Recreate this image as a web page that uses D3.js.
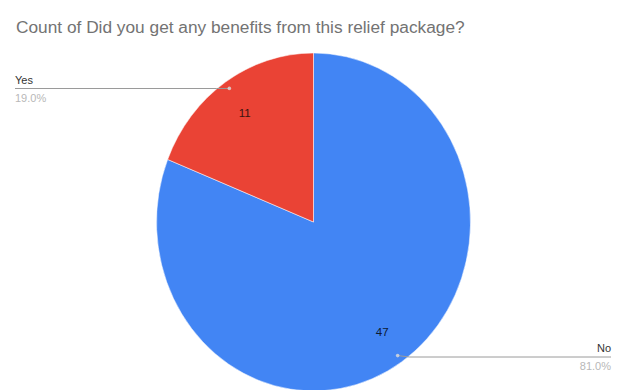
<!DOCTYPE html>
<html><head><meta charset="utf-8">
<script src="https://cdn.jsdelivr.net/npm/d3@7"></script>
<style>html,body{margin:0;padding:0;background:#fff;}svg{display:block;font-family:"Liberation Sans",Arial,sans-serif;}</style>
</head><body>
<svg id="c" width="624" height="390"></svg>
<script>
const title = "Count of Did you get any benefits from this relief package?";
const categories = ["No", "Yes"];
const counts = [47, 11];
const colors = ["#4285F4", "#EA4335"];

const svg = d3.select("#c");
const cx = 313.5, cy = 222, rx = 157, ry = 169;

svg.append("text").attr("x", 16).attr("y", 33)
  .attr("font-size", 17.3).attr("fill", "#737373").text(title);

const total = d3.sum(counts);
const data = categories.map((c, i) => ({cat: c, v: counts[i], col: colors[i]}));
const pie = d3.pie().sort(null).value(d => d.v);
const arcs = pie(data);
const arc = d3.arc().innerRadius(0).outerRadius(rx);

const g = svg.append("g").attr("transform", `translate(${cx},${cy}) scale(1,${ry/rx})`);
g.selectAll("path").data(arcs).enter().append("path")
  .attr("d", arc).attr("fill", d => d.data.col)
  .attr("stroke", "#fff").attr("stroke-width", 0.5);

function pt(a, f) {
  const m = (a.startAngle + a.endAngle) / 2;
  return [cx + Math.sin(m) * rx * f, cy - Math.cos(m) * ry * f];
}

// slice value labels
arcs.forEach(a => {
  const p = pt(a, 0.78);
  svg.append("text").attr("x", p[0]).attr("y", p[1] + 4.5)
    .attr("text-anchor", "middle").attr("font-size", 11.5)
    .attr("fill", a.data.cat === "Yes" ? "#3a1410" : "#0d1a33").text(a.data.v);
});

// outside labels with leader lines
const fmt = d3.format(".1%");
arcs.forEach(a => {
  const d0 = pt(a, 0.955);
  const left = Math.sin((a.startAngle + a.endAngle) / 2) < 0;
  const ly = left ? 88.5 : 357;
  const lx = left ? 15 : 611;
  const bend = left ? d0[0] - 13 : d0[0] + 12;
  svg.append("path")
    .attr("d", `M${d0[0]},${d0[1]} L${bend},${ly} L${lx},${ly}`)
    .attr("fill", "none").attr("stroke", "#9a9a9a").attr("stroke-width", 1);
  svg.append("circle").attr("cx", d0[0]).attr("cy", d0[1]).attr("r", 1.8)
    .attr("fill", "#ddd").attr("opacity", 0.8);
  svg.append("text").attr("x", lx).attr("y", ly - 5)
    .attr("text-anchor", left ? "start" : "end")
    .attr("font-size", 11).attr("fill", "#333").text(a.data.cat);
  svg.append("text").attr("x", lx).attr("y", ly + 13)
    .attr("text-anchor", left ? "start" : "end")
    .attr("font-size", 11).attr("fill", "#b8b8b8").text(fmt(a.data.v / total));
});
</script>
</body></html>
